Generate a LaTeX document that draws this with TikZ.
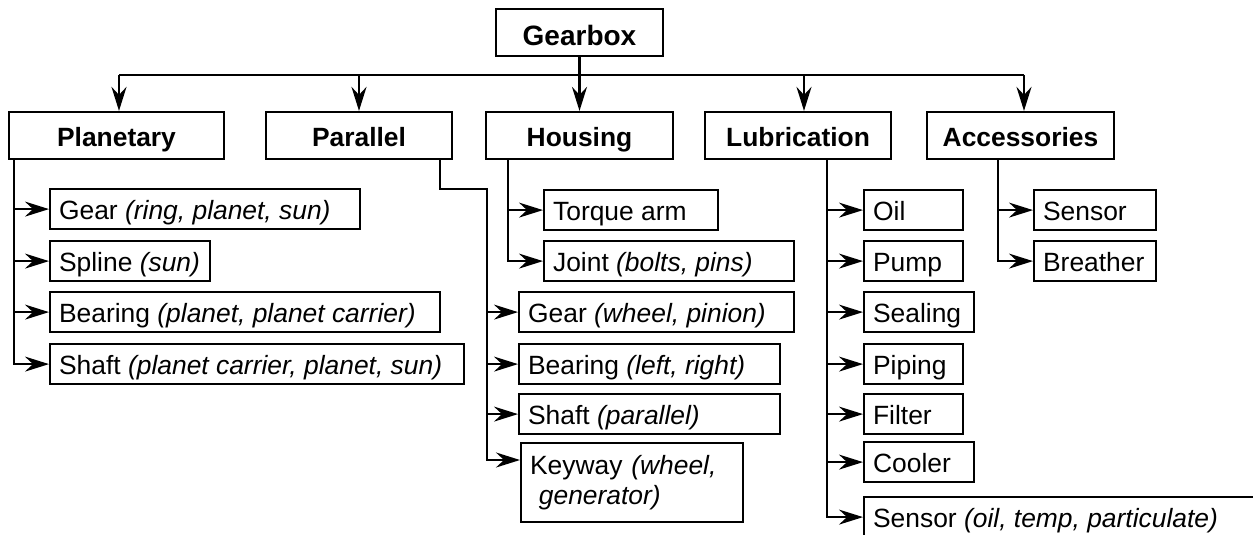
\documentclass[tikz,border=0pt]{standalone}
\usepackage{fontspec}
\setmainfont{Liberation Sans}
\usetikzlibrary{arrows.meta,positioning}

\tikzset{
  box/.style={draw, line width=1.1pt, inner sep=0pt, minimum height=23.5pt,
    text height=12.5pt, text depth=1pt, font=\fontsize{13.2}{15}\selectfont\bfseries},
  leaf/.style={draw, line width=1.1pt, anchor=north west, inner xsep=4.5pt, inner ysep=0pt,
    minimum height=20pt, text height=11pt, text depth=1pt, align=left,
    font=\fontsize{13.2}{15}\selectfont},
  link/.style={line width=1.1pt, -{Stealth[length=12pt,width=7.5pt,inset=4pt]}},
  trunk/.style={line width=1.1pt}
}

\begin{document}
\begin{tikzpicture}[x=0.5pt,y=-0.5pt]
    \useasboundingbox (0,0) rectangle (1253,535);
    \clip (0,0) rectangle (1253,535);
    % top level
    \node[box, minimum width=83.5pt, text height=14.5pt, text depth=1pt,
      font=\fontsize{14}{16}\selectfont\bfseries] (gearbox) at (579.5,32.5) {Gearbox};
    \node[box, minimum width=107.5pt] (planetary) at (116.5,135.5) {Planetary};
    \node[box, minimum width=93pt] (parallel) at (359,135.5) {Parallel};
    \node[box, minimum width=93.5pt] (housing) at (579.5,135.5) {Housing};
    \node[box, minimum width=93pt] (lubrication) at (798,135.5) {Lubrication};
    \node[box, minimum width=93.5pt] (accessories) at (1020.5,135.5) {Accessories};

    \coordinate (barL) at (119,75);
    \coordinate (barR) at (1024,75);
    \draw[trunk] (barL) -- (barR);
    \draw[link] (gearbox) -- (housing);
    \foreach \n/\x in {planetary/119,parallel/359,lubrication/804,accessories/1024}{
      \coordinate (t\n) at (\x,75);
      \draw[link] (t\n) -- (t\n |- \n.north);
    }

    % planetary
    \foreach \n/\y/\w/\t in {plgear/188/146/{Gear \textit{(ring, planet, sun)}},
        plspline/240/71/{Spline \textit{(sun)}},
        plbear/291/186/{Bearing \textit{(planet, planet carrier)}},
        plshaft/343/198/{Shaft \textit{(planet carrier, planet, sun)}}}{
      \node[leaf] (\n) at (49,\y) {\makebox[\w pt][l]{\t}};
      \draw[link] ([xshift=3pt]planetary.south west) |- (\n.west);
    }

    % housing
    \foreach \n/\y/\w/\t in {htorque/189/78/{Torque arm},
        hjoint/240/116/{Joint \textit{(bolts, pins)}}}{
      \node[leaf] (\n) at (543,\y) {\makebox[\w pt][l]{\t}};
      \draw[link] ([xshift=11.5pt]housing.south west) |- (\n.west);
    }

    % parallel
    \coordinate (parbend) at (487,189);
    \foreach \n/\y/\w/\t in {pagear/291/128.5/{Gear \textit{(wheel, pinion)}},
        pabear/343/121.5/{Bearing \textit{(left, right)}},
        pashaft/393/121.5/{Shaft \textit{(parallel)}}}{
      \node[leaf] (\n) at (518,\y) {\makebox[\w pt][l]{\t}};
      \draw[link] ([xshift=-6.5pt]parallel.south east) |- (parbend) |- (\n.west);
    }
    \node[leaf, minimum height=39.5pt, text height=, text depth=, text width=102pt] (pakey) at (520,442)
      {Keyway \textit{(wheel,}\\ \ \textit{generator)}};
    \draw[link] ([xshift=-6.5pt]parallel.south east) |- (parbend) |- ([yshift=-9pt]pakey.north west);

    % lubrication
    \foreach \n/\y/\w/\t in {luoil/189/40.5/{Oil},
        lupump/240/40.5/{Pump},
        luseal/291/46/{Sealing},
        lupipe/343/40.5/{Piping},
        lufilter/393/40.5/{Filter},
        lucool/441/46/{Cooler},
        lusensor/496/201/{Sensor \textit{(oil, temp, particulate)}}}{
      \node[leaf] (\n) at (863,\y) {\makebox[\w pt][l]{\t}};
      \draw[link] ([xshift=61.5pt]lubrication.south west) |- (\n.west);
    }

    % accessories
    \foreach \n/\y/\w/\t in {acsensor/189/52/{Sensor},
        acbreath/240/52/{Breather}}{
      \node[leaf] (\n) at (1033,\y) {\makebox[\w pt][l]{\t}};
      \draw[link] ([xshift=36pt]accessories.south west) |- (\n.west);
    }
\end{tikzpicture}
\end{document}
